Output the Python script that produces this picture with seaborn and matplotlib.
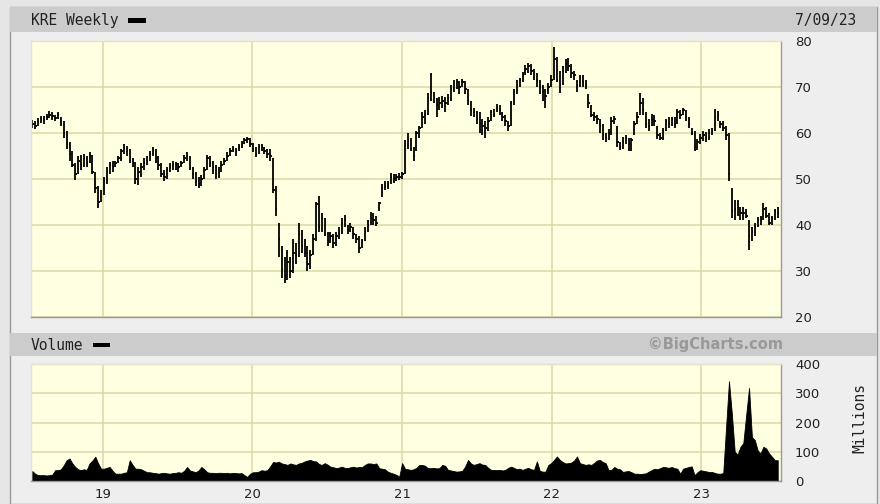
import numpy as np
import pandas as pd
import matplotlib
matplotlib.use('Agg')
import matplotlib.pyplot as plt
from matplotlib.patches import Rectangle
import seaborn as sns

# weekly KRE bars, Jul 2018 - Jul 2023
close = [
    62.0, 61.5, 62.5, 63.0, 62.8, 63.5, 64.0, 63.8, 63.2, 64.0,
    62.5, 60.0, 57.5, 55.5, 53.0, 51.0, 54.0, 53.0, 54.5, 53.5,
    55.0, 51.5, 48.0, 45.0, 47.0, 49.5, 51.5, 53.0, 52.5, 53.5,
    54.5, 56.0, 56.8, 56.0, 54.0, 53.5, 50.0, 51.5, 52.5, 53.5,
    54.0, 55.5, 56.0, 54.5, 53.0, 51.0, 50.5, 52.0, 52.5, 53.0,
    53.0, 52.5, 53.5, 54.5, 55.0, 52.5, 51.0, 49.5, 49.0, 50.0,
    52.0, 54.5, 53.5, 52.5, 51.0, 51.5, 53.0, 54.0, 55.0, 56.0,
    56.5, 56.0, 57.0, 57.5, 58.5, 58.8, 57.5, 56.5, 55.5, 57.0,
    57.0, 56.0, 55.5, 55.0, 47.5, 43.5, 37.0, 30.5, 29.0, 32.0,
    30.0, 34.0, 33.5, 38.0, 35.5, 34.0, 31.5, 33.5, 37.0, 44.5,
    39.5, 41.5, 38.0, 36.5, 37.5, 36.0, 37.5, 38.0, 40.5, 41.0,
    39.0, 39.5, 38.0, 37.0, 35.0, 36.5, 38.5, 40.0, 41.5, 41.0,
    40.5, 44.8, 48.0, 48.5, 49.0, 50.5, 50.0, 50.5, 50.5, 51.0,
    57.5, 58.5, 56.5, 55.0, 60.0, 61.0, 63.5, 64.0, 67.5, 69.0,
    67.5, 66.0, 66.5, 67.0, 66.5, 67.5, 69.5, 70.5, 71.0, 70.0,
    71.0, 69.5, 67.0, 65.0, 64.5, 63.0, 62.0, 61.5, 61.0, 62.5,
    64.5, 64.0, 65.5, 65.0, 63.5, 62.5, 61.5, 66.5, 69.0, 70.5,
    71.5, 72.5, 74.0, 74.5, 73.5, 73.0, 71.5, 70.0, 69.0, 68.0,
    70.0, 71.5, 76.0, 71.5, 70.5, 73.5, 75.0, 74.5, 73.0, 72.5,
    70.5, 72.0, 71.0, 70.5, 66.5, 64.0, 63.5, 63.0, 61.5, 59.5,
    59.0, 60.0, 62.5, 63.0, 58.0, 57.0, 58.0, 59.0, 57.5, 58.5,
    62.0, 63.5, 66.5, 65.0, 62.0, 61.5, 63.0, 62.5, 59.5, 59.0,
    60.5, 62.5, 62.0, 63.0, 62.0, 64.5, 64.0, 65.0, 63.5, 62.0,
    60.0, 57.0, 58.0, 59.0, 59.5, 59.0, 60.0, 60.5, 63.5, 64.0,
    62.0, 61.0, 59.5, 51.0, 43.0, 43.5, 44.0, 42.5, 42.5, 42.0,
    37.5, 38.5, 39.5, 41.0, 41.0, 43.5, 42.0, 40.5, 41.5, 43.0, 42.5,
]
high = [
    62.8, 62.6, 63.2, 63.6, 63.8, 64.2, 64.8, 64.6, 64.0, 64.6,
    63.5, 62.5, 60.5, 58.0, 56.0, 53.5, 55.0, 55.2, 55.5, 55.0,
    55.8, 55.2, 51.5, 48.5, 47.5, 50.5, 52.5, 53.8, 54.0, 54.0,
    55.0, 56.5, 57.5, 57.2, 56.5, 54.5, 53.8, 52.5, 53.5, 54.5,
    55.0, 56.0, 57.0, 56.5, 55.0, 53.5, 52.0, 52.5, 53.5, 54.0,
    53.8, 53.5, 54.0, 55.2, 55.8, 55.0, 52.5, 51.5, 50.5, 50.8,
    52.5, 55.2, 55.0, 54.0, 53.0, 52.5, 54.0, 54.5, 55.8, 56.8,
    57.2, 56.8, 57.5, 58.2, 59.0, 59.2, 59.0, 57.8, 57.0, 57.5,
    57.5, 57.0, 56.5, 56.5, 54.5, 48.5, 40.5, 35.5, 33.0, 34.5,
    33.0, 37.0, 36.0, 40.5, 39.0, 37.0, 35.5, 34.5, 38.0, 45.0,
    46.2, 42.5, 41.5, 38.5, 38.5, 38.0, 38.5, 39.5, 41.5, 42.2,
    40.0, 40.5, 39.5, 38.0, 37.5, 37.0, 39.5, 41.0, 42.8, 42.5,
    42.0, 45.0, 49.0, 49.5, 49.5, 51.2, 51.0, 51.0, 51.2, 51.5,
    58.5, 60.0, 59.0, 57.0, 60.5, 61.5, 64.5, 65.0, 68.7, 73.0,
    69.0, 67.5, 67.8, 68.0, 67.8, 68.5, 70.5, 71.5, 71.8, 71.2,
    71.8, 71.2, 69.5, 67.0, 65.5, 64.8, 64.5, 63.0, 62.5, 63.5,
    65.0, 65.2, 66.2, 66.0, 64.5, 64.0, 62.5, 67.0, 69.5, 71.5,
    72.0, 73.3, 74.8, 75.2, 75.0, 74.0, 73.0, 71.5, 70.5, 69.5,
    70.8, 72.5, 78.8, 76.5, 73.5, 74.5, 76.0, 76.2, 75.0, 73.5,
    71.5, 72.5, 72.5, 71.5, 68.5, 66.0, 64.5, 64.0, 63.0, 62.0,
    60.0, 60.8, 63.5, 63.8, 61.5, 58.0, 59.2, 59.5, 59.0, 59.0,
    62.5, 64.5, 68.7, 67.5, 64.5, 63.0, 64.2, 64.0, 61.5, 60.0,
    61.0, 63.0, 63.5, 63.5, 63.5, 65.2, 65.0, 65.5, 65.0, 63.5,
    61.0, 60.5, 58.8, 59.8, 60.5, 60.2, 60.8, 61.0, 65.2, 64.8,
    62.5, 62.5, 61.5, 60.0, 48.0, 45.5, 45.5, 44.0, 44.0, 43.5,
    41.0, 39.5, 40.5, 41.8, 42.0, 44.8, 44.0, 42.5, 42.0, 43.5, 44.0,
]
low = [
    61.0, 60.8, 61.5, 62.2, 62.0, 62.8, 63.2, 62.8, 62.5, 63.0,
    61.5, 59.0, 56.5, 54.0, 52.5, 49.8, 51.0, 52.0, 52.5, 52.5,
    53.5, 51.0, 47.0, 43.8, 45.0, 46.5, 49.0, 51.0, 51.5, 52.5,
    53.5, 54.0, 55.5, 55.0, 53.5, 52.5, 49.0, 48.8, 50.5, 52.0,
    53.0, 54.0, 55.0, 53.5, 52.0, 50.5, 49.5, 50.0, 51.5, 52.0,
    52.0, 51.5, 52.5, 53.5, 54.0, 52.0, 50.0, 48.5, 48.0, 48.5,
    50.0, 52.0, 52.5, 51.0, 50.0, 50.2, 51.5, 53.0, 54.0, 55.0,
    55.8, 55.0, 56.0, 56.8, 57.5, 57.8, 57.0, 55.8, 54.8, 55.5,
    56.0, 55.5, 54.5, 54.0, 47.0, 42.0, 33.0, 28.5, 27.4, 28.0,
    28.5, 29.5, 31.5, 33.0, 34.0, 33.0, 30.0, 30.5, 33.5, 36.5,
    38.5, 38.5, 37.5, 35.5, 36.0, 35.0, 35.5, 37.0, 38.0, 39.5,
    38.0, 38.5, 37.0, 36.0, 34.0, 35.0, 36.5, 38.5, 40.0, 40.0,
    39.8, 43.0, 46.0, 47.5, 47.8, 49.0, 49.2, 49.5, 49.8, 50.0,
    51.0, 56.5, 56.0, 54.0, 56.0, 59.0, 61.0, 62.0, 64.0, 67.0,
    66.5, 63.5, 65.0, 65.5, 64.5, 66.0, 67.0, 69.0, 69.5, 68.5,
    70.0, 68.5, 66.0, 63.6, 63.5, 62.0, 60.0, 59.5, 59.0, 60.5,
    62.5, 63.5, 64.5, 64.0, 62.5, 61.5, 60.5, 61.5, 66.0, 68.5,
    70.0, 71.0, 72.5, 73.0, 72.5, 71.5, 70.0, 68.5, 67.0, 65.4,
    68.5, 70.0, 71.5, 71.0, 68.8, 70.5, 73.0, 73.5, 72.0, 71.5,
    69.0, 70.0, 70.0, 69.5, 65.5, 63.5, 62.5, 62.0, 60.0, 58.5,
    58.0, 58.5, 59.5, 62.0, 57.0, 56.2, 56.5, 57.5, 56.0, 56.0,
    59.5, 62.0, 64.0, 64.0, 61.0, 60.5, 61.5, 61.5, 58.8, 58.5,
    58.5, 60.5, 61.0, 61.5, 61.0, 62.0, 63.0, 64.0, 62.5, 61.0,
    59.5, 56.0, 56.2, 57.5, 58.2, 58.0, 58.5, 59.5, 60.5, 62.5,
    61.0, 60.5, 58.5, 49.5, 41.5, 41.0, 42.0, 41.0, 41.0, 41.5,
    34.6, 36.5, 37.5, 39.5, 40.0, 41.0, 41.5, 40.0, 40.0, 41.0, 41.5,
]
# weekly volume, millions
volume = [
    34, 25, 20, 20, 20, 19, 20, 22, 37, 37,
    40, 54, 71, 77, 60, 48, 40, 37, 40, 38,
    60, 70, 83, 60, 42, 42, 45, 48, 35, 25,
    25, 25, 28, 30, 71, 55, 42, 42, 40, 35,
    30, 30, 28, 27, 25, 27, 28, 26, 25, 27,
    28, 30, 28, 35, 48, 36, 33, 30, 36, 48,
    40, 30, 28, 28, 27, 28, 28, 27, 28, 26,
    28, 27, 26, 27, 20, 14, 25, 30, 30, 32,
    37, 35, 37, 50, 65, 63, 66, 60, 58, 55,
    60, 57, 55, 60, 62, 67, 70, 72, 68, 67,
    58, 55, 61, 56, 49, 47, 44, 46, 49, 45,
    44, 47, 49, 46, 48, 47, 55, 60, 60, 58,
    60, 44, 42, 40, 32, 28, 25, 21, 15, 61,
    42, 40, 38, 40, 45, 55, 55, 52, 44, 44,
    45, 43, 44, 55, 52, 38, 36, 34, 32, 33,
    35, 50, 72, 60, 55, 58, 61, 56, 55, 45,
    38, 38, 37, 38, 36, 38, 45, 49, 45, 40,
    42, 38, 42, 45, 40, 38, 67, 35, 32, 32,
    55, 61, 72, 84, 72, 65, 60, 61, 63, 70,
    84, 61, 58, 55, 57, 55, 62, 70, 72, 65,
    61, 37, 38, 48, 42, 40, 31, 33, 34, 30,
    25, 25, 24, 25, 26, 32, 37, 42, 40, 44,
    48, 47, 45, 48, 44, 42, 25, 42, 45, 48,
    50, 20, 30, 37, 35, 33, 31, 31, 28, 25,
    25, 27, 186, 341, 230, 100, 90, 117, 130, 226,
    318, 150, 140, 105, 94, 117, 111, 94, 83, 71, 71,
]
year_labels = ['19', '20', '21', '22', '23']
year_starts = ['2019-01-01', '2020-01-01', '2021-01-01', '2022-01-01', '2023-01-01']
price_ticks = [20, 30, 40, 50, 60, 70, 80]
vol_ticks = [0, 100, 200, 300, 400]

df = pd.DataFrame({
    'date': pd.date_range('2018-07-13', periods=len(close), freq='7D'),
    'high': high, 'low': low, 'close': close, 'volume': volume,
})

W, H = 880, 504
PLOT_BG = '#ffffe2'
GRID = '#d9d9a6'
TXT = '#222222'

sns.set_style('white', {'axes.facecolor': PLOT_BG})
plt.rcParams['font.family'] = ['DejaVu Sans']


def fig_box(x0, y0, x1, y1):
    # pixel box (top-left origin) -> figure fraction [left, bottom, width, height]
    return [x0 / W, 1 - y1 / H, (x1 - x0) / W, (y1 - y0) / H]


def add_rect(fig, x0, y0, x1, y1, fc, ec='none', lw=0, z=-2):
    l, b, w, h = fig_box(x0, y0, x1, y1)
    fig.patches.append(Rectangle((l, b), w, h, transform=fig.transFigure,
                                 facecolor=fc, edgecolor=ec, linewidth=lw, zorder=z))


fig = plt.figure(figsize=(W / 100, H / 100), dpi=100, facecolor='#e6e6e6')
add_rect(fig, 10, 7, 877, 504, '#eeeeee', '#999999', 1.0, z=-3)
add_rect(fig, 10, 7, 877, 32, '#cccccc')
add_rect(fig, 10, 333, 877, 356, '#cccccc')
add_rect(fig, 128, 18, 146, 23, 'black')
add_rect(fig, 93, 343, 110, 347, 'black')

xlim = (pd.Timestamp('2018-07-10'), pd.Timestamp('2023-07-15'))
xticks = [pd.Timestamp(d) for d in year_starts]


def style_axes(ax):
    ax.set_facecolor(PLOT_BG)
    ax.set_xlim(*xlim)
    ax.set_xticks(xticks)
    ax.grid(True, color=GRID, linewidth=1.1)
    ax.set_axisbelow(True)
    ax.yaxis.tick_right()
    ax.tick_params(length=0, labelsize=9.5, labelcolor=TXT)
    for side in ['left', 'top']:
        ax.spines[side].set_color('#e2e2c8')
    for side in ['right', 'bottom']:
        ax.spines[side].set_color('#999999')
    for sp in ax.spines.values():
        sp.set_linewidth(1.0)


# price panel
ax = fig.add_axes(fig_box(31, 41, 781, 317))
style_axes(ax)
ax.vlines(df['date'], df['low'], df['high'], color='black', linewidth=1.3)
ax.hlines(df['close'], df['date'], df['date'] + pd.Timedelta(days=3.5),
          color='black', linewidth=1.3)
ax.set_ylim(20, 80)
ax.set_yticks(price_ticks)
ax.set_xticklabels([])
ax.tick_params(axis='y', pad=10)

# volume panel
axv = fig.add_axes(fig_box(31, 364, 781, 481))
style_axes(axv)
axv.fill_between(df['date'], 0, df['volume'], color='black', linewidth=0.6,
                 edgecolor='black')
axv.set_ylim(0, 400)
axv.set_yticks(vol_ticks)
axv.set_xticklabels(year_labels)
axv.tick_params(axis='y', pad=10)
axv.tick_params(axis='x', pad=5)

mono = 'DejaVu Sans Mono'
fig.text(31 / W, 1 - 20 / H, 'KRE Weekly', family=mono, fontsize=10.5,
         color=TXT, va='center', ha='left')
fig.text(795 / W, 1 - 20 / H, '7/09/23', family=mono, fontsize=10.5,
         color=TXT, va='center', ha='left')
fig.text(31 / W, 1 - 345 / H, 'Volume', family=mono, fontsize=10.5,
         color=TXT, va='center', ha='left')
fig.text(783 / W, 1 - 345 / H, '\u00a9BigCharts.com', fontsize=10.5,
         fontweight='bold', color='#999999', va='center', ha='right')
fig.text(860 / W, 1 - 418 / H, 'Millions', family=mono, fontsize=10.5,
         color=TXT, rotation=90, va='center', ha='center')

fig.savefig('out.png', dpi=100, facecolor=fig.get_facecolor())
